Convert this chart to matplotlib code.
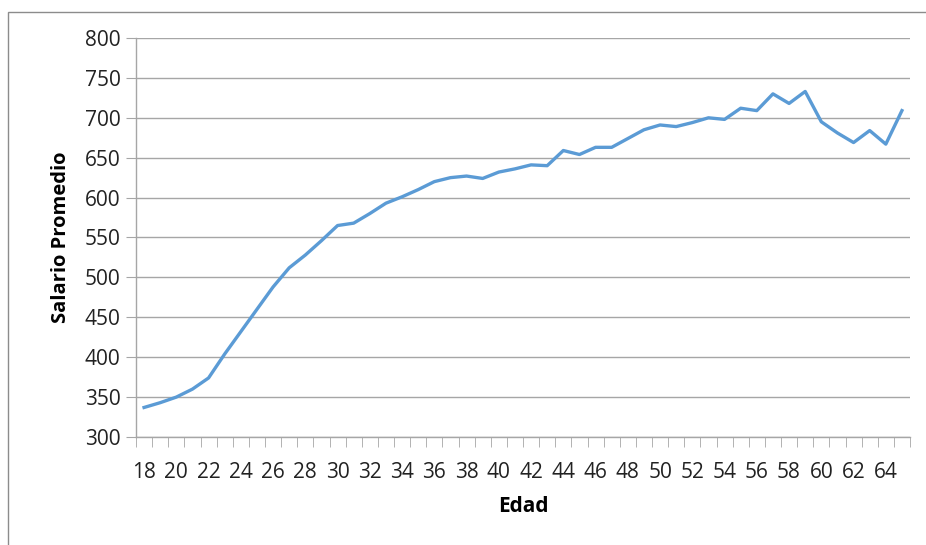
import matplotlib
matplotlib.use("Agg")
import matplotlib.pyplot as plt
from matplotlib.patches import Rectangle
import numpy as np

plt.rcParams['font.family'] = ['Open Sans', 'DejaVu Sans']

edades = list(range(18, 66))
salario = [337, 343, 350, 360, 374, 404, 432, 460, 488, 512,
           528, 546, 565, 568, 580, 593, 601, 610, 620, 625,
           627, 624, 632, 636, 641, 640, 659, 654, 663, 663,
           674, 685, 691, 689, 694, 700, 698, 712, 709, 730,
           718, 733, 695, 681, 669, 684, 667, 709]
etiquetas_x = [str(e) for e in range(18, 65, 2)]
etiquetas_y = list(range(300, 801, 50))

fig = plt.figure(figsize=(9.26, 5.45), dpi=100)
# borde del area del grafico (estilo Excel)
fig.patches.append(Rectangle((8 / 926, -0.1), 1.1, (545 - 12) / 545 + 0.1,
                             transform=fig.transFigure, fill=False,
                             edgecolor='#8c8c8c', linewidth=1.0))

ax = fig.add_axes([136 / 926, (545 - 437) / 545, (910 - 136) / 926, (437 - 38) / 545])

ax.plot(edades, salario, color='#5B9BD5', linewidth=2.4, solid_joinstyle='round')

ax.set_xlim(17.5, 65.5)
ax.set_ylim(300, 800)
ax.set_yticks(etiquetas_y)
ax.set_xticks(range(18, 65, 2))
ax.set_xticklabels(etiquetas_x)
ax.set_xticks(np.arange(17.5, 66, 1), minor=True)

ax.grid(axis='y', color='#a6a6a6', linewidth=1.0)
ax.set_axisbelow(True)
for s in ['top', 'right']:
    ax.spines[s].set_visible(False)
for s in ['left', 'bottom']:
    ax.spines[s].set_color('#a6a6a6')
    ax.spines[s].set_linewidth(1.0)

ax.tick_params(axis='y', length=7, color='#a6a6a6', labelsize=15, labelcolor='#222222', pad=4)
ax.tick_params(axis='x', which='major', length=0, labelsize=15, labelcolor='#222222', pad=18)
ax.tick_params(axis='x', which='minor', length=7, color='#a6a6a6')

ax.set_xlabel('Edad', fontsize=15, fontweight='bold', labelpad=9)
ax.set_ylabel('Salario Promedio', fontsize=14.5, fontweight='bold', labelpad=10)

fig.savefig('out.png', dpi=100)
